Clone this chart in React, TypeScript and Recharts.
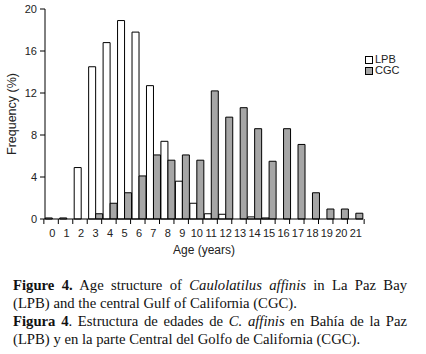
import { BarChart, Bar, XAxis, YAxis, Legend } from "recharts";

const ages = ["0", "1", "2", "3", "4", "5", "6", "7", "8", "9", "10", "11", "12", "13", "14", "15", "16", "17", "18", "19", "20", "21"];
const lpb = [0.1, 0.1, 4.9, 14.5, 16.8, 18.9, 17.8, 12.7, 7.4, 3.6, 1.5, 0.5, 0.45, 0, 0.2, 0.1, 0, 0, 0, 0, 0, 0];
const cgc = [0, 0, 0, 0.5, 1.5, 2.5, 4.1, 6.1, 5.6, 6.1, 5.6, 12.2, 9.7, 10.6, 8.6, 5.5, 8.6, 7.1, 2.5, 0.95, 0.95, 0.55];
const yTicks = [0, 4, 8, 12, 16, 20];
const seriesOrder = ["LPB", "CGC"];

const data = ages.map((age, i) => ({ age, LPB: lpb[i], CGC: cgc[i] }));

const W = 426;
const H = 260;
const M = { top: 9, right: 13, left: 15, bottom: 0 };
const Y_W = 30;
const band = (W - M.left - M.right - Y_W) / ages.length;

const sans = "'Liberation Sans', Arial, sans-serif";

// tick marks sit on the category edges, labels in the middle
const AgeTick = (props: any) => {
  const { x, y, payload, index } = props;
  const y0 = y - 8;
  return (
    <g>
      <line x1={x - band / 2} y1={y0} x2={x - band / 2} y2={y0 + 5} stroke="#000" />
      {index === ages.length - 1 && (
        <line x1={x + band / 2} y1={y0} x2={x + band / 2} y2={y0 + 5} stroke="#000" />
      )}
      <text x={x} y={y + 10} textAnchor="middle" fontSize={11} fill="#222" fontFamily={sans}>
        {payload.value}
      </text>
    </g>
  );
};

const LegendBox = (props: any) => {
  const items = [...props.payload].sort(
    (a: any, b: any) => seriesOrder.indexOf(a.value) - seriesOrder.indexOf(b.value)
  );
  return (
    <div style={{ fontFamily: sans, fontSize: 11, lineHeight: "11px", color: "#222" }}>
      {items.map((p: any) => (
        <div key={p.value} style={{ display: "flex", alignItems: "center" }}>
          <span
            style={{
              display: "inline-block",
              width: 6,
              height: 6,
              border: "1px solid #000",
              background: p.payload.fill,
              marginRight: 2,
            }}
          />
          {p.value}
        </div>
      ))}
    </div>
  );
};

const lineStyle = { display: "block", whiteSpace: "nowrap" as const };

export default function App() {
  return (
    <div style={{ position: "absolute", left: 0, top: 0, width: W, height: 354, background: "#fff" }}>
      <BarChart width={W} height={H} data={data} margin={M} barCategoryGap="2%" barGap={0}>
        <XAxis
          dataKey="age"
          axisLine={{ stroke: "#000" }}
          tickLine={false}
          tick={<AgeTick />}
          interval={0}
          height={41}
          label={{ value: "Age (years)", position: "insideBottom", offset: 6, fontSize: 12, fill: "#222", fontFamily: sans }}
        />
        <YAxis
          domain={[0, 20]}
          ticks={yTicks}
          width={Y_W}
          axisLine={{ stroke: "#000" }}
          tickLine={{ stroke: "#000" }}
          tickSize={5}
          tickMargin={3}
          tick={{ fontSize: 11, fill: "#222", fontFamily: sans }}
          label={{ value: "Frequency (%)", angle: -90, position: "insideLeft", offset: -3, fontSize: 12.5, fill: "#222", fontFamily: sans, style: { textAnchor: "middle" } }}
        />
        <Legend
          layout="vertical"
          verticalAlign="top"
          align="right"
          content={<LegendBox />}
          wrapperStyle={{ left: 365, top: 54, width: 50 }}
        />
        <Bar dataKey="LPB" fill="#ffffff" stroke="#000" strokeWidth={1} isAnimationActive={false} />
        <Bar dataKey="CGC" fill="#a6a6a6" stroke="#000" strokeWidth={1} isAnimationActive={false} />
      </BarChart>
      <div
        style={{
          position: "absolute",
          left: 13,
          top: 276,
          width: 394,
          fontFamily: "'Liberation Serif', 'Times New Roman', serif",
          fontSize: 14.7,
          lineHeight: "18px",
          color: "#111",
        }}
      >
        <span style={{ ...lineStyle, textAlign: "justify", textAlignLast: "justify" }}>
          <b>Figure 4.</b> Age structure of <i>Caulolatilus affinis</i> in La Paz Bay
        </span>
        <span style={lineStyle}>(LPB) and the central Gulf of California (CGC).</span>
        <span style={{ ...lineStyle, textAlign: "justify", textAlignLast: "justify" }}>
          <b>Figura 4</b>. Estructura de edades de <i>C. affinis</i> en Bahía de la Paz
        </span>
        <span style={lineStyle}>(LPB) y en la parte Central del Golfo de California (CGC).</span>
      </div>
    </div>
  );
}
